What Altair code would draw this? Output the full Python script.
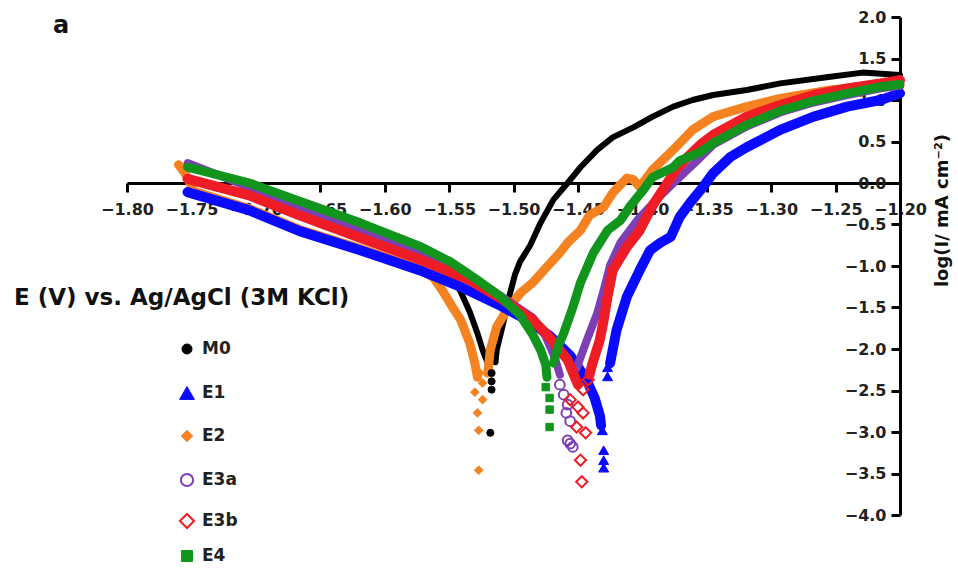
import altair as alt
import pandas as pd

# ---- series definitions -------------------------------------------------
SERIES = ["M0", "E1", "E2", "E3a", "E3b", "E4"]
STROKE = ["#000000", "#0a0aff", "#f58220", "#7d3fb5", "#ee1c24", "#12951c"]
FILL = ["#000000", "#0a0aff", "#f58220", "transparent", "transparent", "#12951c"]
SHAPES = ["circle", "triangle-up", "diamond", "circle", "diamond", "square"]
OUTLINE = [1, 1, 1, 2, 2, 1]
POINT_SIZE = [50, 100, 75, 95, 125, 55]
KEY_SIZE = [100, 220, 130, 150, 200, 120]
LINE_WIDTH = [6, 10, 9, 8, 10, 9]
# drawing order of the traces (later ones on top)
DRAW_ORDER = ["M0", "E2", "E1", "E3a", "E3b", "E4"]

X_TICKS = [-1.80, -1.75, -1.70, -1.65, -1.60, -1.55, -1.50, -1.45, -1.40,
           -1.35, -1.30, -1.25, -1.20]
Y_TICKS = [2.0, 1.5, 1.0, 0.5, 0.0, -0.5, -1.0, -1.5, -2.0, -2.5, -3.0, -3.5, -4.0]

X_TITLE = "E (V) vs. Ag/AgCl (3M KCl)"
Y_TITLE = "log(I/ mA cm\u207b\u00b2)"
PANEL = "a"

# ---- measured Tafel data: (E / V, log I) --------------------------------
M0_CATHODIC = [(-1.753, 0.06), (-1.705, -0.16), (-1.666, -0.39), (-1.619, -0.64),
               (-1.573, -0.90), (-1.549, -1.11), (-1.541, -1.31), (-1.534, -1.55),
               (-1.528, -1.81), (-1.524, -2.01), (-1.520, -2.17)]
M0_TAIL = [(-1.517, -2.29), (-1.517, -2.39), (-1.517, -2.49), (-1.518, -3.01)]
M0_ANODIC = [(-1.514, -2.16), (-1.513, -2.01), (-1.508, -1.69), (-1.503, -1.35),
             (-1.499, -1.11), (-1.495, -0.95), (-1.487, -0.75), (-1.479, -0.48),
             (-1.469, -0.20), (-1.458, 0.00), (-1.448, 0.19), (-1.435, 0.40),
             (-1.423, 0.55), (-1.407, 0.67), (-1.392, 0.80), (-1.376, 0.92),
             (-1.361, 1.00), (-1.345, 1.06), (-1.319, 1.12), (-1.293, 1.20),
             (-1.254, 1.28), (-1.229, 1.33), (-1.200, 1.30)]

E1_CATHODIC = [(-1.753, -0.11), (-1.705, -0.33), (-1.666, -0.58), (-1.619, -0.81),
               (-1.573, -1.05), (-1.541, -1.25), (-1.510, -1.48), (-1.487, -1.67),
               (-1.472, -1.84), (-1.456, -2.08), (-1.444, -2.35), (-1.437, -2.59),
               (-1.433, -2.80), (-1.432, -2.92)]
E1_TAIL = [(-1.431, -2.98), (-1.430, -3.22), (-1.430, -3.34), (-1.430, -3.43),
           (-1.427, -2.22), (-1.427, -2.33)]
E1_ANODIC = [(-1.425, -2.17), (-1.420, -1.77), (-1.412, -1.37), (-1.402, -1.05),
             (-1.394, -0.81), (-1.386, -0.72), (-1.378, -0.65), (-1.371, -0.41),
             (-1.363, -0.24), (-1.353, -0.05), (-1.345, 0.12), (-1.332, 0.31),
             (-1.319, 0.43), (-1.293, 0.64), (-1.267, 0.80), (-1.241, 0.92),
             (-1.215, 1.00), (-1.200, 1.08)]

E2_CATHODIC = [(-1.760, 0.22), (-1.755, 0.12), (-1.748, -0.10), (-1.705, -0.31),
               (-1.666, -0.56), (-1.619, -0.79), (-1.573, -1.03), (-1.562, -1.14),
               (-1.555, -1.30), (-1.548, -1.48), (-1.541, -1.65), (-1.534, -1.93),
               (-1.530, -2.17), (-1.528, -2.34)]
E2_TAIL = [(-1.526, -2.29), (-1.524, -2.41), (-1.530, -2.52), (-1.524, -2.61),
           (-1.528, -2.77), (-1.527, -2.98), (-1.527, -3.46)]
E2_ANODIC = [(-1.520, -2.29), (-1.518, -2.01), (-1.513, -1.73), (-1.505, -1.53),
             (-1.495, -1.33), (-1.485, -1.20), (-1.474, -1.01), (-1.464, -0.84),
             (-1.458, -0.72), (-1.448, -0.57), (-1.441, -0.39), (-1.430, -0.29),
             (-1.423, -0.12), (-1.412, 0.06), (-1.407, 0.04), (-1.402, -0.05),
             (-1.392, 0.16), (-1.376, 0.40), (-1.361, 0.64), (-1.345, 0.80),
             (-1.319, 0.92), (-1.293, 1.02), (-1.254, 1.12), (-1.215, 1.18),
             (-1.200, 1.18)]

E3A_CATHODIC = [(-1.753, 0.24), (-1.705, -0.05), (-1.666, -0.29), (-1.619, -0.56),
                (-1.573, -0.83), (-1.534, -1.12), (-1.510, -1.36), (-1.485, -1.62),
                (-1.475, -1.85), (-1.468, -2.10), (-1.464, -2.31)]
E3A_TAIL = [(-1.464, -2.43), (-1.461, -2.55), (-1.458, -2.67), (-1.459, -2.77),
            (-1.456, -2.87), (-1.458, -3.10), (-1.456, -3.14), (-1.454, -3.18)]
E3A_ANODIC = [(-1.451, -2.23), (-1.443, -1.89), (-1.435, -1.57), (-1.430, -1.29),
              (-1.425, -0.99), (-1.417, -0.72), (-1.404, -0.45), (-1.389, -0.20),
              (-1.373, 0.04), (-1.358, 0.26), (-1.345, 0.46), (-1.319, 0.68),
              (-1.293, 0.85), (-1.267, 0.97), (-1.241, 1.06), (-1.215, 1.14),
              (-1.200, 1.17)]

E3B_CATHODIC = [(-1.753, 0.05), (-1.705, -0.15), (-1.666, -0.39), (-1.619, -0.66),
                (-1.573, -0.92), (-1.534, -1.17), (-1.510, -1.39), (-1.485, -1.65),
                (-1.472, -1.86), (-1.458, -2.13), (-1.450, -2.43)]
E3B_TAIL = [(-1.456, -2.61), (-1.450, -2.70), (-1.446, -2.77), (-1.451, -2.94),
            (-1.444, -3.01), (-1.448, -3.34), (-1.447, -3.60), (-1.446, -2.49),
            (-1.442, -2.37)]
E3B_ANODIC = [(-1.441, -2.31), (-1.439, -2.19), (-1.433, -1.89), (-1.430, -1.65),
              (-1.427, -1.37), (-1.423, -1.05), (-1.412, -0.77), (-1.402, -0.57),
              (-1.392, -0.27), (-1.384, -0.08), (-1.373, 0.18), (-1.363, 0.34),
              (-1.355, 0.46), (-1.345, 0.58), (-1.319, 0.80), (-1.293, 0.94),
              (-1.267, 1.06), (-1.241, 1.14), (-1.215, 1.20), (-1.200, 1.24)]

E4_CATHODIC = [(-1.753, 0.19), (-1.705, 0.00), (-1.666, -0.22), (-1.619, -0.48),
               (-1.573, -0.76), (-1.549, -0.95), (-1.526, -1.19), (-1.510, -1.37),
               (-1.495, -1.59), (-1.485, -1.83), (-1.479, -2.01), (-1.475, -2.19),
               (-1.474, -2.34)]
E4_TAIL = [(-1.475, -2.46), (-1.472, -2.59), (-1.472, -2.73), (-1.472, -2.94)]
E4_ANODIC = [(-1.469, -2.17), (-1.465, -1.95), (-1.461, -1.81), (-1.454, -1.50),
             (-1.448, -1.20), (-1.438, -0.84), (-1.427, -0.57), (-1.417, -0.45),
             (-1.409, -0.27), (-1.399, -0.08), (-1.392, 0.07), (-1.376, 0.19),
             (-1.371, 0.27), (-1.355, 0.37), (-1.345, 0.48), (-1.319, 0.70),
             (-1.293, 0.87), (-1.267, 0.99), (-1.241, 1.08), (-1.215, 1.16),
             (-1.200, 1.19)]

BRANCHES = {
    "M0": (M0_CATHODIC, M0_TAIL, M0_ANODIC),
    "E1": (E1_CATHODIC, E1_TAIL, E1_ANODIC),
    "E2": (E2_CATHODIC, E2_TAIL, E2_ANODIC),
    "E3a": (E3A_CATHODIC, E3A_TAIL, E3A_ANODIC),
    "E3b": (E3B_CATHODIC, E3B_TAIL, E3B_ANODIC),
    "E4": (E4_CATHODIC, E4_TAIL, E4_ANODIC),
}

rows = []
for s in DRAW_ORDER:
    k = SERIES.index(s)
    cath, tail, anod = BRANCHES[s]
    for kind, pts in (("cathodic", cath), ("tail", tail), ("anodic", anod)):
        for i, (e, li) in enumerate(pts):
            rows.append({"series": s, "branch": f"{s}-{kind}", "kind": kind,
                         "idx": i, "E": e, "logI": li, "lw": LINE_WIDTH[k],
                         "sw": OUTLINE[k], "ps": POINT_SIZE[k]})
df = pd.DataFrame(rows)

legend_df = pd.DataFrame({"series": SERIES, "rank": list(range(len(SERIES))),
                          "sw": OUTLINE, "ps": KEY_SIZE})

# ---- plot geometry ------------------------------------------------------
W, H = 773, 498
Y_MIN, Y_MAX = -4.0, 2.0
ZERO_FROM_BOTTOM = H * (0.0 - Y_MIN) / (Y_MAX - Y_MIN)  # x axis crosses at log I = 0
FONT = "DejaVu Sans"
LEGEND_ROWS = [332, 376, 419, 463, 504, 539]

x_enc = alt.X(
    "E:Q",
    scale=alt.Scale(domain=[-1.8, -1.2], nice=False, zero=False),
    axis=alt.Axis(values=X_TICKS, format=".2f", offset=-ZERO_FROM_BOTTOM,
                  tickSize=9, tickWidth=3, domainWidth=3,
                  domainColor="black", tickColor="black",
                  labelFont=FONT, labelFontWeight="bold", labelFontSize=16,
                  labelColor="#222222", labelPadding=9, labelFlush=False,
                  labelOverlap=False, grid=False, title=None),
)
y_enc = alt.Y(
    "logI:Q",
    scale=alt.Scale(domain=[Y_MIN, Y_MAX], nice=False, zero=False),
    axis=alt.Axis(orient="left", offset=-W, values=Y_TICKS, format=".1f",
                  tickSize=9, tickWidth=3, domainWidth=3,
                  domainColor="black", tickColor="black",
                  labelFont=FONT, labelFontWeight="bold", labelFontSize=16,
                  labelColor="#222222", labelPadding=5, labelFlush=False,
                  labelOverlap=False, grid=False,
                  title=Y_TITLE, titleFont=FONT, titleFontWeight="bold",
                  titleFontSize=18, titleColor="#111111", titleAngle=270,
                  titleX=42, titleY=193, titleAlign="center",
                  titleBaseline="middle"),
)

shape_enc = alt.Shape("series:N", scale=alt.Scale(domain=SERIES, range=SHAPES), legend=None)
fill_enc = alt.Fill("series:N", scale=alt.Scale(domain=SERIES, range=FILL), legend=None)
stroke_enc = alt.Stroke("series:N", scale=alt.Scale(domain=SERIES, range=STROKE), legend=None)
sw_enc = alt.StrokeWidth("sw:Q", scale=None, legend=None)
size_enc = alt.Size("ps:Q", scale=None, legend=None)

base = alt.Chart(df)

# one line layer per sample so later samples sit on top of earlier ones
line_layers = []
for s in DRAW_ORDER:
    line_layers.append(
        base.transform_filter((alt.datum.series == s) & (alt.datum.kind != "tail"))
        .mark_line(strokeCap="round", strokeJoin="round")
        .encode(
            x=x_enc, y=y_enc,
            color=alt.Color("series:N", scale=alt.Scale(domain=SERIES, range=STROKE),
                            legend=None),
            strokeWidth=alt.StrokeWidth("lw:Q", scale=None, legend=None),
            detail="branch:N",
            order="idx:Q",
        )
    )

points = (
    base.transform_filter(alt.datum.kind == "tail")
    .mark_point(opacity=1)
    .encode(x=x_enc, y=y_enc, shape=shape_enc, fill=fill_enc, stroke=stroke_enc,
            strokeWidth=sw_enc, size=size_enc)
)

x_title = alt.Chart(pd.DataFrame({"t": [X_TITLE]})).mark_text(
    font=FONT, fontWeight="bold", fontSize=23, color="#111111",
    align="left", baseline="middle"
).encode(text="t:N", x=alt.value(-113), y=alt.value(281))

panel = alt.Chart(pd.DataFrame({"t": [PANEL]})).mark_text(
    font=FONT, fontWeight="bold", fontSize=24, color="#111111",
    align="left", baseline="middle"
).encode(text="t:N", x=alt.value(-74), y=alt.value(9))

plot = alt.layer(*line_layers, points, x_title, panel)

# key: one symbol and one label per sample, stacked down the left side
row_y = alt.Y("rank:Q", scale=alt.Scale(domain=list(range(len(SERIES))), range=LEGEND_ROWS),
              axis=None)
key_symbols = alt.Chart(legend_df).mark_point(opacity=1).encode(
    x=alt.value(60), y=row_y, shape=shape_enc, fill=fill_enc, stroke=stroke_enc,
    strokeWidth=sw_enc, size=size_enc)
key_labels = alt.Chart(legend_df).mark_text(
    font=FONT, fontWeight="bold", fontSize=17, color="#222222",
    align="left", baseline="middle"
).encode(x=alt.value(75), y=row_y, text="series:N")
key = alt.layer(key_symbols, key_labels)

chart = (
    alt.layer(plot, key)
    .resolve_scale(y="independent")
    .properties(width=W, height=H, autosize="none",
                padding={"left": 127, "top": 17, "right": 58, "bottom": 55})
    .configure_view(strokeWidth=0)
)

chart.save("out.html", embed_options={"renderer": "svg", "actions": False})
